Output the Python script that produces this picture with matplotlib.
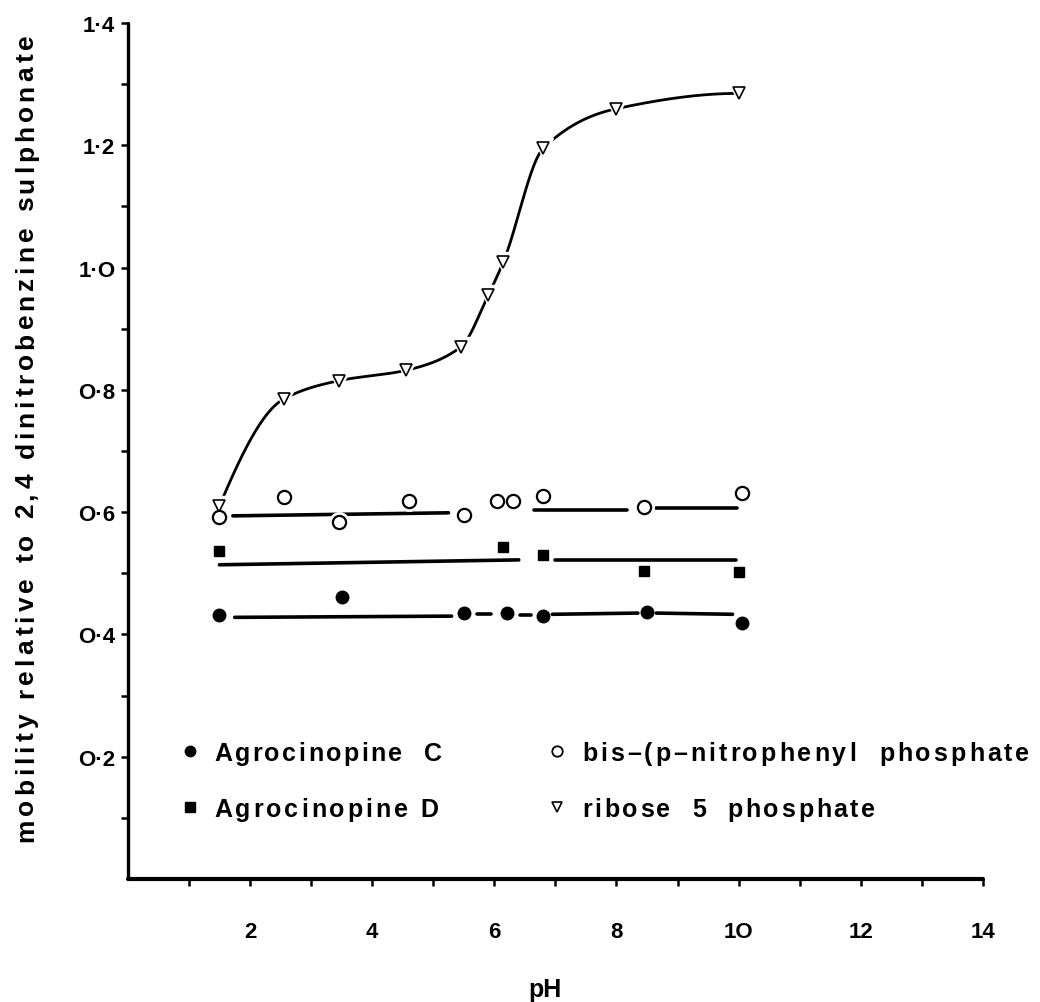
import matplotlib
matplotlib.use("Agg")
import numpy as np
import matplotlib.pyplot as plt
from matplotlib.font_manager import FontProperties, findfont
from matplotlib.ft2font import FT2Font

# ---- measured mobilities (relative to 2,4 dinitrobenzine sulphonate) ----
ph_agro_c = [1.5, 3.5, 5.5, 6.2, 6.8, 8.5, 10.05]
mob_agro_c = [0.432, 0.462, 0.435, 0.435, 0.430, 0.437, 0.418]

ph_agro_d = [1.5, 6.15, 6.8, 8.45, 10.0]
mob_agro_d = [0.537, 0.543, 0.530, 0.504, 0.502]

ph_bis = [1.5, 2.55, 3.45, 4.6, 5.5, 6.05, 6.3, 6.8, 8.45, 10.05]
mob_bis = [0.592, 0.625, 0.584, 0.618, 0.596, 0.619, 0.619, 0.627, 0.608, 0.632]

ph_ribose = [1.5, 2.55, 3.45, 4.55, 5.45, 5.9, 6.15, 6.8, 8.0, 10.0]
mob_ribose = [0.610, 0.785, 0.815, 0.832, 0.870, 0.955, 1.010, 1.195, 1.260, 1.285]

# hand-drawn mean lines: (pH start, pH end, mobility start, mobility end)
fit_agro_c = [(1.75, 5.3, 0.428, 0.430), (5.72, 5.95, 0.433, 0.433),
              (6.42, 6.6, 0.432, 0.432), (6.95, 8.35, 0.433, 0.435),
              (8.65, 9.9, 0.435, 0.433)]
fit_agro_d = [(1.5, 6.4, 0.514, 0.522), (7.0, 9.95, 0.522, 0.522)]
fit_bis = [(1.72, 5.25, 0.594, 0.599), (6.65, 8.18, 0.603, 0.603),
           (8.64, 9.98, 0.607, 0.607)]

x_ticks = list(range(1, 15))
x_labels = ["", "2", "", "4", "", "6", "", "8", "", "1O", "", "12", "", "14"]
y_ticks = [0.1 * k for k in range(1, 15)]
y_labels = ["", "O·2", "", "O·4", "", "O·6", "", "O·8", "", "1·O", "", "1·2", "", "1·4"]

legend_left = ["Agrocinopine  C", "Agrocinopine D"]
legend_right = ["bis–(p–nitrophenyl  phosphate", "ribose  5  phosphate"]
y_title = "mobility relative to 2,4 dinitrobenzine sulphonate"
x_title = "pH"

FONT = "Liberation Sans"
W, H, DPI = 1040, 1003, 100


def pchip(x, y, xs):
    """Monotone cubic (Fritsch-Carlson) curve through the points."""
    x = np.asarray(x, float)
    y = np.asarray(y, float)
    h = np.diff(x)
    d = np.diff(y) / h
    n = len(x)
    m = np.zeros(n)
    for k in range(1, n - 1):
        if d[k - 1] * d[k] > 0:
            w1 = 2 * h[k] + h[k - 1]
            w2 = h[k] + 2 * h[k - 1]
            m[k] = (w1 + w2) / (w1 / d[k - 1] + w2 / d[k])
    m[0] = ((2 * h[0] + h[1]) * d[0] - h[0] * d[1]) / (h[0] + h[1])
    if np.sign(m[0]) != np.sign(d[0]):
        m[0] = 0
    m[-1] = ((2 * h[-1] + h[-2]) * d[-1] - h[-1] * d[-2]) / (h[-1] + h[-2])
    if np.sign(m[-1]) != np.sign(d[-1]):
        m[-1] = 0
    out = np.empty_like(xs)
    idx = np.clip(np.searchsorted(x, xs) - 1, 0, n - 2)
    for i, (xv, k) in enumerate(zip(xs, idx)):
        t = (xv - x[k]) / h[k]
        h00 = 2 * t**3 - 3 * t**2 + 1
        h10 = t**3 - 2 * t**2 + t
        h01 = -2 * t**3 + 3 * t**2
        h11 = t**3 - t**2
        out[i] = h00 * y[k] + h10 * h[k] * m[k] + h01 * y[k + 1] + h11 * h[k] * m[k + 1]
    return out


_font_path = findfont(FontProperties(family=FONT, weight="bold"))


def char_advances(s, size_pt):
    """Advance width of each character in pixels."""
    ft = FT2Font(_font_path)
    ft.set_size(size_pt, DPI)
    return [ft.load_char(ord(c)).linearHoriAdvance / 65536.0 for c in s]


def spaced_text(fig, s, x_px, y_px, size_pt, length_px, vertical=False):
    """Typewriter-style text with letter spacing stretched to length_px.
    (x_px, y_px) is the start of the line at mid cap height, pixel coords
    from the top-left corner."""
    adv = char_advances(s, size_pt)
    natural = sum(adv[:-1]) + adv[-1] * 0.85
    track = (length_px - natural) / max(len(s) - 1, 1)
    half_cap = 0.36 * size_pt * DPI / 72.0
    pos = 0.0
    for c, a in zip(s, adv):
        if vertical:
            fx = (x_px + half_cap) / W
            fy = 1 - (y_px - pos) / H
            rot = 90
        else:
            fx = (x_px + pos) / W
            fy = 1 - (y_px + half_cap) / H
            rot = 0
        if c != " ":
            fig.text(fx, fy, c, fontfamily=FONT, fontweight="bold",
                     fontsize=size_pt, rotation=rot, rotation_mode="anchor",
                     ha="left", va="baseline")
        pos += a + track


fig = plt.figure(figsize=(W / DPI, H / DPI), dpi=DPI)
ax = fig.add_axes([0.1229, 0.1226, 0.8223, 0.8534])
ax.set_xlim(0, 14)
ax.set_ylim(0, 1.4)

for side in ("top", "right"):
    ax.spines[side].set_visible(False)
ax.spines["left"].set_linewidth(2.4)
ax.spines["bottom"].set_linewidth(3.0)
ax.spines["left"].set_capstyle("round")
ax.spines["bottom"].set_capstyle("round")

ax.set_xticks(x_ticks)
ax.set_xticklabels(x_labels)
ax.set_yticks(y_ticks)
ax.set_yticklabels(y_labels)
ax.tick_params(axis="x", direction="out", length=5, width=1.8, pad=25)
ax.tick_params(axis="y", direction="out", length=5, width=1.8, pad=4)
for lab in ax.get_xticklabels() + ax.get_yticklabels():
    lab.set_fontfamily(FONT)
    lab.set_fontweight("bold")
    lab.set_fontsize(16)

LW = 2.6

# ribose 5 phosphate: smooth titration curve, broken around each symbol
xs = np.linspace(ph_ribose[0], ph_ribose[-1], 600)
ax.plot(xs, pchip(ph_ribose, mob_ribose, xs), color="black", lw=2.0,
        solid_capstyle="round", zorder=2)

# mean lines
for segs in (fit_agro_c, fit_agro_d, fit_bis):
    for x0, x1, y0, y1 in segs:
        ax.plot([x0, x1], [y0, y1], color="black", lw=LW,
                solid_capstyle="round", zorder=2)

# white halos leave a gap in the line around every symbol
for px, py, mk, ms in ((ph_ribose, mob_ribose, "v", 15),
                       (ph_bis, mob_bis, "o", 14)):
    ax.plot(px, py, ls="none", marker=mk, ms=ms, mfc="white", mec="white",
            zorder=3)

ax.plot(ph_ribose, mob_ribose, ls="none", marker="v", ms=9.3, mfc="white",
        mec="black", mew=1.2, zorder=4)
ax.plot(ph_bis, mob_bis, ls="none", marker="o", ms=9.5, mfc="white",
        mec="black", mew=1.6, zorder=4)
ax.plot(ph_agro_d, mob_agro_d, ls="none", marker="s", ms=7.5, mfc="black",
        mec="black", zorder=4)
ax.plot(ph_agro_c, mob_agro_c, ls="none", marker="o", ms=9.0, mfc="black",
        mec="black", zorder=4)

# key symbols (pH / mobility coordinates of the key block)
key_rows = [0.2095, 0.118]
ax.plot([1.02], [key_rows[0]], ls="none", marker="o", ms=7.5, mfc="black", mec="black")
ax.plot([1.02], [key_rows[1]], ls="none", marker="s", ms=6.5, mfc="black", mec="black")
ax.plot([7.03], [key_rows[0]], ls="none", marker="o", ms=7.5, mfc="white", mec="black", mew=1.3)
ax.plot([7.03], [key_rows[1]], ls="none", marker="v", ms=7.5, mfc="white", mec="black", mew=1.2)

# key texts, axis titles (letter-spaced)
row_px = [752, 808]
spaced_text(fig, legend_left[0], 214, row_px[0], 18, 225)
spaced_text(fig, legend_left[1], 214, row_px[1], 18, 222)
spaced_text(fig, legend_right[0], 582, row_px[0], 18, 445)
spaced_text(fig, legend_right[1], 582, row_px[1], 18, 291)
spaced_text(fig, y_title, 24, 842, 19, 805, vertical=True)

fig.text(545 / W, 1 - 990 / H, x_title, fontfamily=FONT, fontweight="bold",
         fontsize=18, ha="center", va="center")

fig.savefig("out.png", dpi=DPI, facecolor="white")
